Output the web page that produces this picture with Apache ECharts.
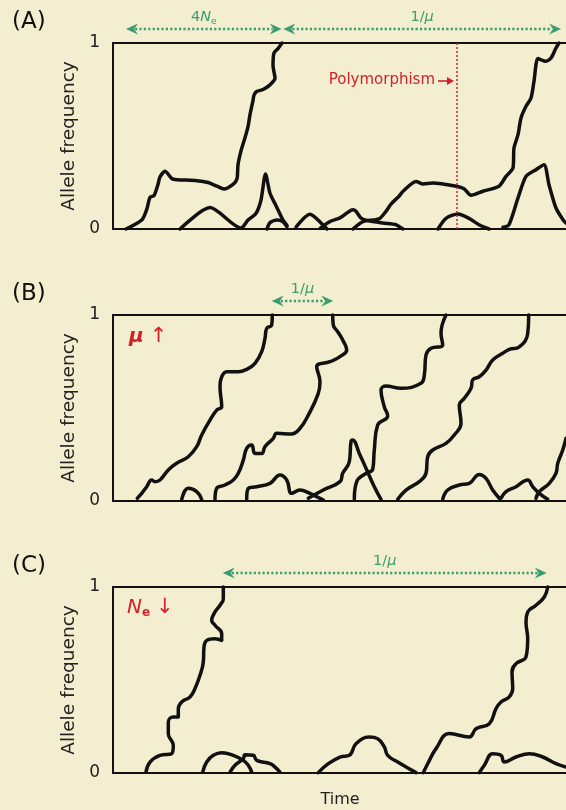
<!DOCTYPE html>
<html>
<head>
<meta charset="utf-8">
<script src="https://cdn.jsdelivr.net/npm/echarts@6/dist/echarts.min.js"></script>
<style>
html, body { margin: 0; padding: 0; background: #f3eed0; }
#chart { width: 566px; height: 810px; }
</style>
</head>
<body>
<div id="chart"></div>
<script>
// time in arbitrary units (0..453), allele frequency 0..1
const freqTicks = [0, 1]
const panelLabels = ['(A)', '(B)', '(C)']

// (A) large Ne
const a1 = [[13,0],[29,0.05],[34,0.11],[37,0.17],[41,0.18],[45,0.24],[47,0.28],[52,0.31],[59,0.27],[64,0.265],[84,0.26],[95,0.25],[104,0.23],[111,0.215],[120,0.24],[124,0.27],[125,0.345],[128,0.42],[132,0.49],[135,0.55],[137,0.615],[140,0.69],[141,0.72],[144,0.74],[150,0.75],[157,0.775],[162,0.81],[160,0.88],[161,0.946],[165,0.97],[169,1]]
const a2 = [[67,0],[97,0.115],[128,0.005],[135,0.048],[143,0.084],[148,0.156],[152.5,0.296],[157,0.192],[163.5,0.12],[170,0.048],[174,0.02]]
const a3 = [[154,0],[157,0.034],[164,0.048],[170,0.039],[174,0.012]]
const a4 = [[183,0.01],[197,0.079],[210,0.022],[214,0]]
const a5 = [[207,0.003],[217,0.04],[227,0.06],[240,0.104],[243,0.095],[248,0.059],[255,0.045],[270,0.032],[283,0.023],[290,0]]
const a6 = [[240,0],[250,0.04],[266,0.054],[273,0.095],[278,0.134],[286,0.176],[290,0.203],[303,0.256],[310,0.242],[320,0.247],[343,0.23],[351,0.217],[358,0.181],[370,0.203],[386,0.23],[393,0.283],[400,0.328],[401,0.435],[405,0.507],[408,0.597],[413,0.66],[418,0.704],[421,0.794],[425,0.916],[433,0.902],[438,0.919],[443,0.973],[446,1]]
const a7 = [[325,0],[333,0.057],[345,0.081],[356,0.057],[366,0.023],[376,0]]
const a8 = [[390,0.009],[396,0.023],[405,0.167],[413,0.283],[423,0.319],[431,0.346],[436,0.238],[443,0.113],[450,0.05],[453,0.032]]
const polymorphismTime = 344

// (B) mutation rate up
const b1 = [[24.3,0.015],[28.7,0.041],[33.7,0.077],[38.7,0.113],[42,0.104],[47,0.113],[55.3,0.167],[63.7,0.203],[75.3,0.238],[83.7,0.292],[88.7,0.355],[97,0.435],[103.7,0.489],[108.7,0.507],[107,0.615],[108.7,0.668],[113.7,0.695],[125.3,0.695],[133.7,0.708],[142,0.74],[148.7,0.803],[152,0.875],[153.7,0.928],[158.7,0.946],[159.3,1]]
const b2 = [[68.7,0.009],[75.3,0.068],[83.7,0.05],[88.7,0.009]]
const b3 = [[102,0.009],[103.7,0.068],[112,0.086],[120.3,0.113],[125.3,0.149],[130.3,0.22],[133.7,0.283],[138.7,0.301],[142,0.256],[148.7,0.256],[152,0.292],[160.3,0.337],[163.7,0.364],[178.7,0.36],[187,0.391],[195.3,0.462],[205.3,0.579],[207,0.641],[203.7,0.722],[217,0.749],[227,0.776],[233.7,0.812],[229.7,0.866],[224.7,0.91],[220.3,0.946],[219.7,1]]
const b4 = [[133.7,0.009],[135.3,0.068],[143.7,0.077],[157,0.095],[167,0.14],[173.7,0.113],[178.7,0.041],[187,0.059],[197,0.041],[203.7,0.023],[210.3,0.005]]
const b5 = [[195.3,0.015],[210.3,0.059],[227,0.104],[229.7,0.149],[236.3,0.211],[238,0.319],[239.7,0.328],[246.3,0.256],[253,0.176],[261.3,0.077],[268,0.009]]
const b6 = [[241.3,0.009],[243.7,0.104],[253,0.149],[259.7,0.17],[261.3,0.274],[264.7,0.409],[274.7,0.457],[271.3,0.507],[268,0.597],[273,0.618],[288,0.606],[308,0.633],[311.3,0.677],[313,0.785],[318,0.821],[329.7,0.839],[328,0.902],[333,1]]
const b7 = [[284.7,0.009],[293,0.059],[306.3,0.104],[313,0.149],[314.7,0.238],[319.7,0.274],[333,0.31],[341.3,0.355],[348,0.418],[346.3,0.516],[351.3,0.552],[358,0.606],[359.7,0.651],[366.3,0.668],[373,0.704],[379.7,0.758],[389.7,0.794],[396.3,0.815],[406.3,0.829],[414.7,0.9],[415.7,1]]
const b8 = [[329.7,0.009],[334.7,0.059],[346.3,0.086],[356.3,0.095],[366.3,0.143],[373,0.122],[379.7,0.059],[386.3,0.015]]
const b9 = [[388,0.015],[393,0.05],[403,0.077],[414.7,0.113],[419.7,0.077],[426.3,0.041],[434.7,0.009]]
const b10 = [[423,0.015],[426.3,0.05],[436.3,0.095],[443,0.149],[444.7,0.202],[449.7,0.274],[453,0.337]]

// (C) Ne down
const c1 = [[33,0.005],[37,0.059],[47,0.095],[58.7,0.104],[60.3,0.149],[55.3,0.211],[55.3,0.274],[60.3,0.301],[65.3,0.301],[65.3,0.346],[68.7,0.382],[77,0.409],[82,0.454],[87,0.525],[90.3,0.597],[91,0.677],[93.7,0.713],[102,0.722],[108.7,0.713],[108.7,0.749],[102,0.794],[98.7,0.821],[102,0.866],[107,0.902],[110.3,0.937],[110.3,1]]
const c2 = [[89.7,0.005],[93.7,0.059],[100.3,0.095],[108.7,0.109],[120.3,0.095],[130.3,0.068],[135.3,0.042],[138.7,0.005]]
const c3 = [[117,0.005],[122,0.042],[130.3,0.077],[132,0.098],[140.3,0.095],[143.7,0.068],[157,0.05],[162,0.032],[167,0.005]]
const c4 = [[205.3,0.002],[215.3,0.05],[227,0.086],[236.3,0.095],[243,0.157],[256.3,0.193],[264.7,0.184],[271.3,0.14],[274.7,0.095],[284.7,0.059],[303,0.002]]
const c5 = [[310.3,0.002],[314.7,0.05],[323,0.131],[336.3,0.212],[356.3,0.194],[363,0.238],[376.3,0.265],[383,0.346],[388,0.382],[396.3,0.409],[399.7,0.454],[399,0.543],[403,0.588],[413,0.624],[414.7,0.722],[413,0.812],[414.7,0.866],[423,0.902],[431.3,0.946],[434.7,1]]
const c6 = [[366.3,0.002],[371.3,0.042],[379.7,0.104],[388,0.095],[391.3,0.059],[403,0.086],[416.3,0.104],[429.7,0.086],[443,0.05],[453,0.032]]

// interval arrows above each panel
const aSpans = [[13, 168.7, '4{i|N}{s|e}'], [170.3, 448, '1/{i|μ}']]
const bSpans = [[158.7, 220.3, '1/{i|μ}']]
const cSpans = [[109.7, 433.7, '1/{i|μ}']]

const panels = [[a1, a2, a3, a4, a5, a6, a7, a8], [b1, b2, b3, b4, b5, b6, b7, b8, b9, b10], [c1, c2, c3, c4, c5, c6]]
const spans = [aSpans, bSpans, cSpans]

const tops = [43, 315, 587]
const timeMax = 453
const font = 'DejaVu Sans'
const green = '#3a9d6c'
const red = '#d3202a'
const ink = '#111'

const series = []
panels.forEach((paths, i) => {
  paths.forEach(path => {
    series.push({
      type: 'line',
      xAxisIndex: i,
      yAxisIndex: i,
      data: path,
      showSymbol: false,
      smooth: i === 0 ? 0.25 : 0.45,
      clip: false,
      silent: true,
      lineStyle: { color: ink, width: 3.5, cap: 'round', join: 'round' },
    })
  })
})
// dotted polymorphism marker on panel A
series[6].markLine = {
  silent: true,
  symbol: 'none',
  label: { show: false },
  lineStyle: { color: red, type: [2, 2], width: 1.5 },
  data: [{ xAxis: polymorphismTime }],
}

const frameLine = { show: true, lineStyle: { color: ink, width: 2 } }
const bottomAxes = tops.map((_, i) => ({
  type: 'value', gridIndex: i, min: 0, max: timeMax, position: 'bottom',
  axisLine: frameLine, axisTick: { show: false }, axisLabel: { show: false }, splitLine: { show: false },
}))
const topAxes = tops.map((_, i) => ({
  type: 'value', gridIndex: i, min: 0, max: timeMax, position: 'top',
  axisLine: frameLine, axisTick: { show: false }, axisLabel: { show: false }, splitLine: { show: false },
}))

const chart = echarts.init(document.getElementById('chart'))
chart.setOption({
  backgroundColor: '#f3eed0',
  animation: false,
  textStyle: { fontFamily: font },
  grid: tops.map(top => ({ left: 113, right: 0, top, height: 186 })),
  xAxis: [...bottomAxes, ...topAxes],
  yAxis: tops.map((_, i) => ({
    type: 'value', gridIndex: i,
    min: freqTicks[0], max: freqTicks[1], interval: freqTicks[1] - freqTicks[0],
    name: 'Allele frequency', nameLocation: 'middle', nameRotate: 90, nameGap: 32,
    nameTextStyle: { fontSize: 18.5, color: '#222', fontFamily: font },
    axisLine: frameLine, axisTick: { show: false }, splitLine: { show: false },
    axisLabel: { fontSize: 17, color: '#222', margin: 13, fontFamily: font },
  })),
  series,
})

// annotations placed with the chart's own scale
const px = (i, t) => chart.convertToPixel({ xAxisIndex: i }, t)
const graphics = []

function spanArrow(x1, x2, y, label) {
  return [
    { type: 'line', shape: { x1: x1 + 9, y1: y, x2: x2 - 9, y2: y },
      style: { stroke: green, lineWidth: 2.5, lineDash: [2.2, 2.2] } },
    { type: 'polygon', shape: { points: [[x1, y], [x1 + 12, y - 5.5], [x1 + 8, y], [x1 + 12, y + 5.5]] },
      style: { fill: green } },
    { type: 'polygon', shape: { points: [[x2, y], [x2 - 12, y - 5.5], [x2 - 8, y], [x2 - 12, y + 5.5]] },
      style: { fill: green } },
    { type: 'text', x: (x1 + x2) / 2, y: y - 12,
      style: {
        text: label, align: 'center', verticalAlign: 'middle', fill: green,
        fontSize: 14.5, fontFamily: font,
        rich: {
          i: { fontSize: 14.5, fontStyle: 'italic', fill: green, fontFamily: font },
          s: { fontSize: 9, fill: green, fontFamily: font, padding: [9, 0, 0, 0] },
        },
      } },
  ]
}

spans.forEach((list, i) => {
  list.forEach(([t1, t2, label]) => {
    graphics.push(...spanArrow(px(i, t1), px(i, t2), tops[i] - 14, label))
  })
  graphics.push({ type: 'text', x: 12, y: tops[i] - 21,
    style: { text: panelLabels[i], fontSize: 23, fill: ink, fontFamily: font, verticalAlign: 'middle' } })
})

// Polymorphism label with arrow
const xp = px(0, polymorphismTime)
graphics.push(
  { type: 'text', x: xp - 22, y: tops[0] + 37,
    style: { text: 'Polymorphism', align: 'right', verticalAlign: 'middle', fontSize: 15, fill: red, fontFamily: font } },
  { type: 'line', shape: { x1: xp - 19, y1: tops[0] + 38, x2: xp - 8, y2: tops[0] + 38 },
    style: { stroke: red, lineWidth: 1.6 } },
  { type: 'polygon', shape: { points: [[xp - 3, tops[0] + 38], [xp - 10, tops[0] + 34], [xp - 10, tops[0] + 42]] },
    style: { fill: red } },
)

// condition markers
graphics.push(
  { type: 'text', x: 129, y: tops[1] + 22,
    style: { text: '{i|μ}↑', verticalAlign: 'middle', fontSize: 21, fill: red, fontFamily: font,
      rich: { i: { fontSize: 20, fontStyle: 'italic', fontWeight: 'bold', fill: red, fontFamily: font, padding: [0, 6, 0, 0] } } } },
  { type: 'text', x: 127, y: tops[2] + 21,
    style: { text: '{i|N}{s|e}↓', verticalAlign: 'middle', fontSize: 21, fill: red, fontFamily: font,
      rich: {
        i: { fontSize: 20, fontStyle: 'italic', fill: red, fontFamily: font },
        s: { fontSize: 12, fontWeight: 'bold', fill: red, fontFamily: font, padding: [10, 6, 0, 0] },
      } } },
  { type: 'text', x: 340, y: 800,
    style: { text: 'Time', align: 'center', verticalAlign: 'middle', fontSize: 16, fill: '#222', fontFamily: font } },
)

chart.setOption({ graphic: graphics })
</script>
</body>
</html>
